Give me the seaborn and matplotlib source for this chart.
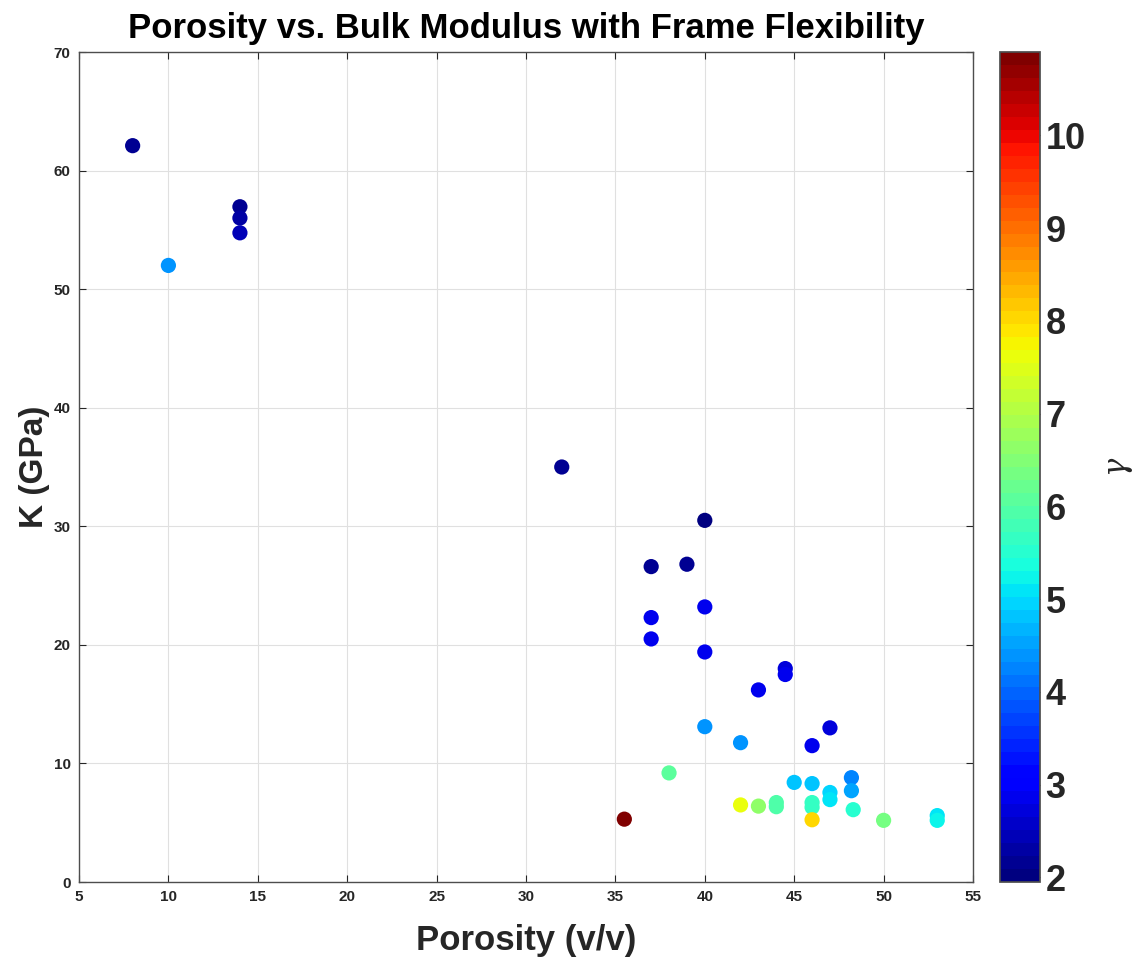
import matplotlib
matplotlib.use("Agg")
import matplotlib.pyplot as plt
import matplotlib.colors as mcolors
import matplotlib.cm as cm
import numpy as np
import pandas as pd
import seaborn as sns

# Porosity (v/v), bulk modulus K (GPa) and frame flexibility factor gamma
porosity = [8, 10, 14, 14, 14, 32, 35.5, 37, 37, 37, 38, 39, 40, 40, 40, 40,
            42, 42, 43, 43, 44, 44, 44.5, 44.5, 45, 46, 46, 46, 46, 46,
            47, 47, 47, 48.2, 48.2, 48.3, 50, 53, 53]
bulk_modulus = [62.1, 52.0, 56.95, 56.0, 54.75, 35.0, 5.3, 26.6, 22.3, 20.5, 9.2, 26.8,
                30.5, 23.2, 19.4, 13.1, 11.75, 6.5, 16.2, 6.4, 6.7, 6.35, 18.0, 17.5,
                8.4, 11.5, 8.3, 6.7, 6.3, 5.25, 13.0, 7.55, 6.95, 8.8, 7.7, 6.1,
                5.2, 5.6, 5.2]
gamma = [2.1, 4.35, 2.2, 2.3, 2.4, 2.2, 10.9, 2.2, 2.8, 2.9, 6.1, 2.1,
         2.0, 2.8, 2.9, 4.35, 4.35, 7.6, 2.8, 6.6, 6.0, 6.0, 2.7, 2.8,
         4.8, 2.8, 4.8, 5.7, 5.7, 8.1, 2.7, 5.0, 5.1, 4.3, 4.6, 5.5,
         6.3, 5.1, 5.2]

x_ticks = list(range(5, 56, 5))
y_ticks = list(range(0, 71, 10))
cbar_ticks = list(range(2, 11))

df = pd.DataFrame({"porosity": porosity, "K": bulk_modulus, "gamma": gamma})

sns.set_theme(style="white")
plt.rcParams["font.family"] = ["Liberation Sans", "DejaVu Sans"]
plt.rcParams["mathtext.fontset"] = "dejavuserif"

W, H = 1137, 959
fig = plt.figure(figsize=(W / 100, H / 100), dpi=100)
ax = fig.add_axes([79 / W, (H - 882) / H, 894 / W, 830 / H])
cax = fig.add_axes([1000 / W, (H - 882) / H, 40 / W, 830 / H])

cmap = plt.get_cmap("jet", 64)
norm = mcolors.Normalize(vmin=1.95, vmax=10.9)

sns.scatterplot(data=df, x="porosity", y="K", hue="gamma", palette=cmap,
                hue_norm=norm, s=120, linewidth=0, legend=False, ax=ax)

ax.set_xlim(5, 55)
ax.set_ylim(0, 70)
ax.set_xticks(x_ticks)
ax.set_yticks(y_ticks)
ax.set_xticklabels([str(t) for t in x_ticks], fontweight="bold",
                   fontsize=11, color="#262626")
ax.set_yticklabels([str(t) for t in y_ticks], fontweight="bold",
                   fontsize=11, color="#262626")
ax.tick_params(direction="in", length=5, width=0.8, colors="#262626",
               top=True, right=True, bottom=True, left=True, pad=6)
ax.grid(True, color="#e0e0e0", linewidth=0.8)
for sp in ax.spines.values():
    sp.set_color("#4d4d4d")
    sp.set_linewidth(1.0)

ax.set_xlabel("Porosity (v/v)", fontweight="bold", fontsize=25,
              color="#262626", labelpad=14)
ax.set_ylabel("K (GPa)", fontweight="bold", fontsize=24,
              color="#262626", labelpad=3)
ax.set_title("Porosity vs. Bulk Modulus with Frame Flexibility", fontweight="bold",
             fontsize=25, color="black", pad=10)

sm = cm.ScalarMappable(norm=norm, cmap=cmap)
cb = fig.colorbar(sm, cax=cax)
cb.set_ticks(cbar_ticks)
cb.ax.set_yticklabels([str(t) for t in cbar_ticks], fontweight="bold", fontsize=26,
                      color="#262626")
cb.ax.tick_params(direction="in", length=6, width=0.8, colors="#262626", pad=4)
cb.outline.set_edgecolor("#4d4d4d")
cb.set_label(r"$\gamma$", fontsize=22, rotation=90, labelpad=14, color="#262626")

fig.savefig("out.png", dpi=100)
